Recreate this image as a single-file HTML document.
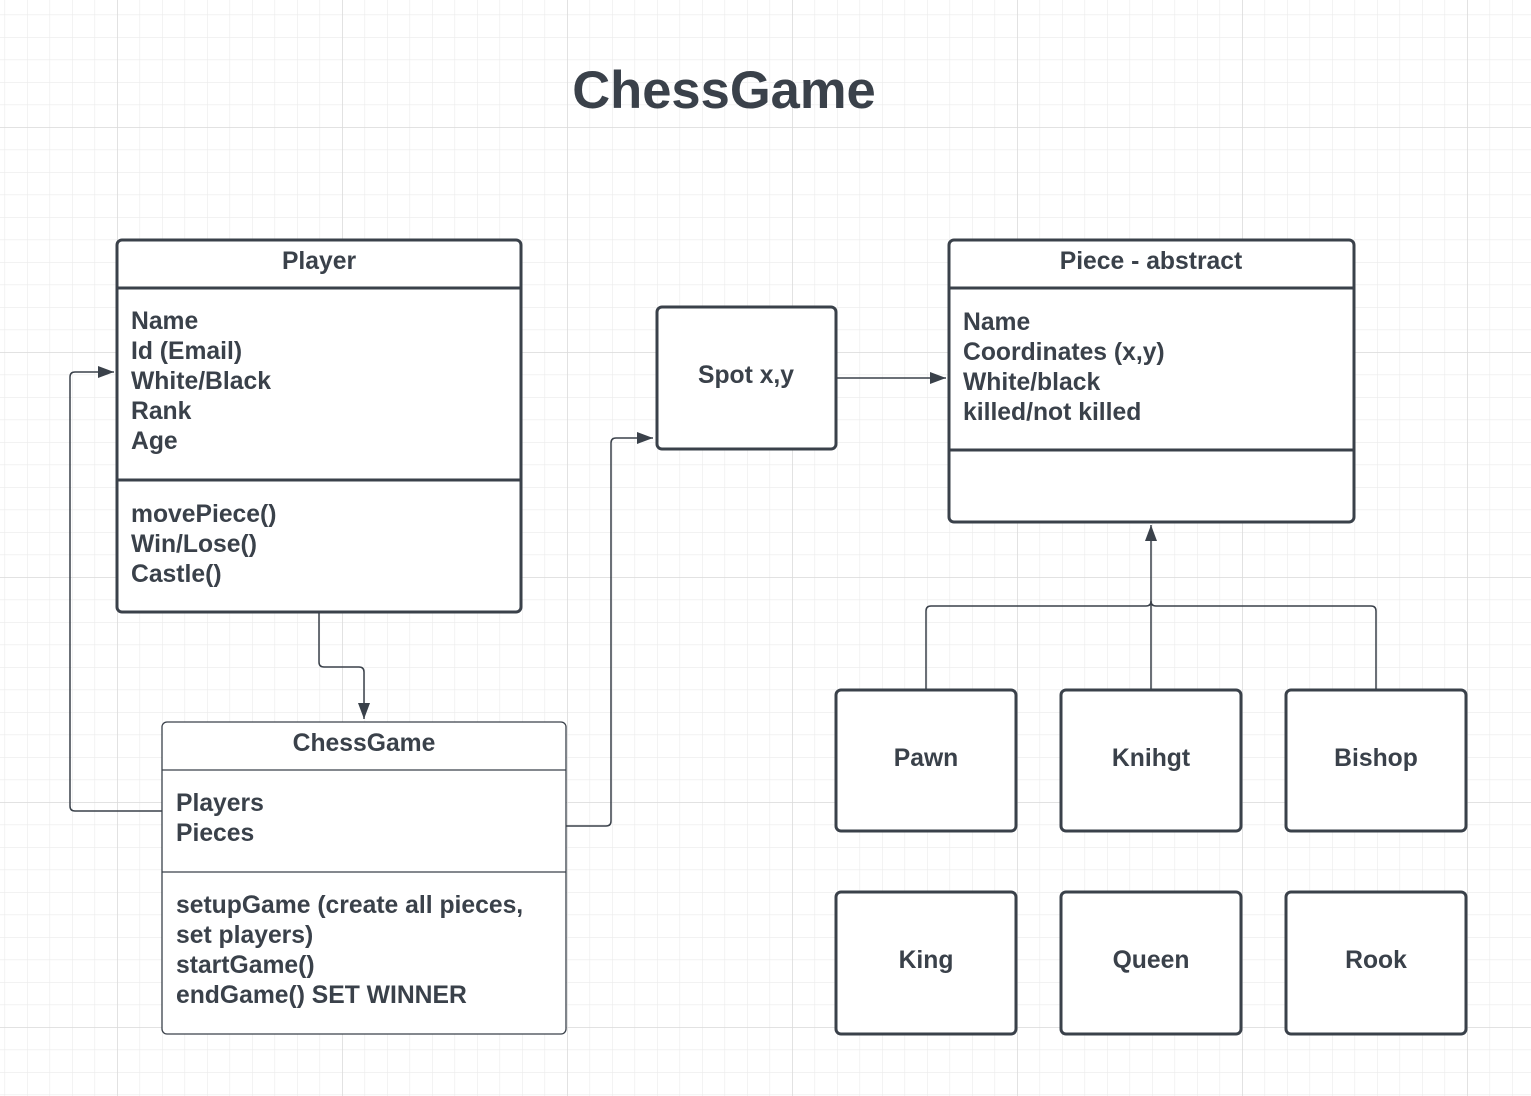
<!DOCTYPE html>
<html><head><meta charset="utf-8"><style>
html,body{margin:0;padding:0;background:#fff}
svg{display:block}
text{font-family:"Liberation Sans",Arial,sans-serif;font-weight:bold;fill:#3a414a;font-size:24.7px}
</style></head><body>
<svg width="1531" height="1096" viewBox="0 0 1531 1096" xmlns="http://www.w3.org/2000/svg">
<defs>
<pattern id="minor" x="4.5" y="14.5" width="22.5" height="22.5" patternUnits="userSpaceOnUse">
<path d="M0 0 V22.5 M0 0 H22.5" stroke="#ebebeb" stroke-width="1.2" fill="none"/>
</pattern>
<pattern id="major" x="117" y="127" width="225" height="225" patternUnits="userSpaceOnUse">
<path d="M0 0 V225 M0 0 H225" stroke="#dadada" stroke-width="1.5" fill="none"/>
</pattern>
<marker id="ar" markerWidth="16" markerHeight="12" refX="16" refY="6" orient="auto" markerUnits="userSpaceOnUse">
<path d="M0 0 L16 6 L0 12 Z" fill="#3a414a"/>
</marker>
</defs>
<rect width="1531" height="1096" fill="#fff"/>
<rect width="1531" height="1096" fill="url(#minor)"/>
<rect width="1531" height="1096" fill="url(#major)"/>

<text x="724" y="108" text-anchor="middle" style="font-size:52.5px">ChessGame</text>

<g fill="none" stroke="#3a414a" stroke-width="1.5">
<path d="M319 612 V662 Q319 667 324 667 H359 Q364 667 364 672 V719" marker-end="url(#ar)"/>
<path d="M162 811 H75 Q70 811 70 806 V377 Q70 372 75 372 H114" marker-end="url(#ar)"/>
<path d="M566 826 H606 Q611 826 611 821 V443 Q611 438 616 438 H653" marker-end="url(#ar)"/>
<path d="M836 378 H946" marker-end="url(#ar)"/>
<path d="M926 690 V611 Q926 606 931 606 H1146 Q1151 606 1151 601 M1151 601 Q1151 606 1156 606 H1371 Q1376 606 1376 611 V690"/>
<path d="M1151 690 V525" marker-end="url(#ar)"/>
</g>

<g fill="#fff" stroke="#3a414a" stroke-width="3">
<rect x="117" y="240" width="404" height="372" rx="5"/>
<path d="M117 288 H521 M117 480 H521"/>
<rect x="949" y="240" width="405" height="282" rx="5"/>
<path d="M949 288 H1354 M949 450 H1354"/>
<rect x="657" y="307" width="179" height="142" rx="5"/>
<rect x="836" y="690" width="180" height="141" rx="5"/>
<rect x="1061" y="690" width="180" height="141" rx="5"/>
<rect x="1286" y="690" width="180" height="141" rx="5"/>
<rect x="836" y="892" width="180" height="142" rx="5"/>
<rect x="1061" y="892" width="180" height="142" rx="5"/>
<rect x="1286" y="892" width="180" height="142" rx="5"/>
</g>
<g fill="#fff" stroke="#3a414a" stroke-width="1.3">
<rect x="162" y="722" width="404" height="312" rx="5"/>
<path d="M162 770 H566 M162 872 H566"/>
</g>

<text x="319" y="269" text-anchor="middle">Player</text>
<text x="131" y="329">Name</text>
<text x="131" y="359">Id (Email)</text>
<text x="131" y="389">White/Black</text>
<text x="131" y="419">Rank</text>
<text x="131" y="449">Age</text>
<text x="131" y="522">movePiece()</text>
<text x="131" y="552">Win/Lose()</text>
<text x="131" y="582">Castle()</text>

<text x="1151" y="269" text-anchor="middle">Piece - abstract</text>
<text x="963" y="330">Name</text>
<text x="963" y="360">Coordinates (x,y)</text>
<text x="963" y="390">White/black</text>
<text x="963" y="420">killed/not killed</text>

<text x="746" y="383" text-anchor="middle">Spot x,y</text>

<text x="364" y="751" text-anchor="middle">ChessGame</text>
<text x="176" y="811">Players</text>
<text x="176" y="841">Pieces</text>
<text x="176" y="913">setupGame (create all pieces,</text>
<text x="176" y="943">set players)</text>
<text x="176" y="973">startGame()</text>
<text x="176" y="1003">endGame() SET WINNER</text>

<text x="926" y="766" text-anchor="middle">Pawn</text>
<text x="1151" y="766" text-anchor="middle">Knihgt</text>
<text x="1376" y="766" text-anchor="middle">Bishop</text>
<text x="926" y="968" text-anchor="middle">King</text>
<text x="1151" y="968" text-anchor="middle">Queen</text>
<text x="1376" y="968" text-anchor="middle">Rook</text>
</svg>
</body></html>
